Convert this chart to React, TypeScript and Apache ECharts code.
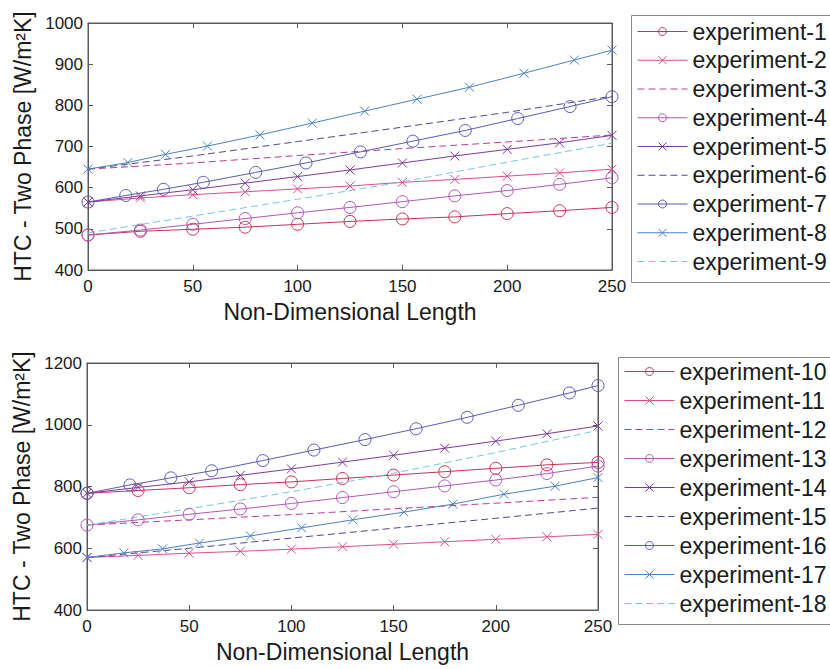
import React, { useEffect, useRef } from 'react';
import * as echarts from 'echarts';

const FONT = '"Liberation Sans", Arial, Helvetica, sans-serif';

// shared x positions
const X_STEP = [0, 25, 50, 75, 100, 125, 150, 175, 200, 225, 250];
const X_DASH = [0, 50, 100, 150, 200, 250];
const X_TICKS = [0, 50, 100, 150, 200, 250];

// ---- top panel (experiments 1-9)
const exp1 = [485, 494, 499, 504, 511, 518, 524, 529, 537, 544, 552];
const exp2 = [565, 575, 583, 590, 597, 604, 613, 620, 628, 636, 645];
const exp3 = [645, 660, 678, 695, 711, 728];
const exp4 = [485, 497, 511, 525, 539, 552, 566, 580, 593, 608, 624];
const exp5 = [565, 580, 595, 611, 627, 643, 660, 677, 693, 709, 727];
const exp6 = [645, 677, 712, 747, 783, 822];
const exp7x = [0, 18, 36, 55, 80, 104, 130, 155, 180, 205, 230, 250];
const exp7 = [565, 581, 596, 613, 637, 660, 687, 713, 739, 768, 797, 821];
const exp8x = [0, 19, 37, 57, 82, 107, 132, 157, 182, 208, 232, 250];
const exp8 = [645, 661, 681, 701, 728, 757, 786, 815, 844, 878, 910, 934];
const exp9 = [490, 531, 572, 614, 662, 708];

// ---- bottom panel (experiments 10-18)
const exp10 = [778, 787, 796, 806, 815, 826, 837, 848, 859, 870, 878];
const exp11 = [570, 577, 584, 590, 597, 605, 613, 621, 629, 637, 645];
const exp12 = [675, 692, 709, 728, 746, 765];
const exp13 = [675, 692, 710, 727, 745, 764, 783, 802, 821, 842, 866];
const exp14 = [778, 797, 815, 836, 857, 879, 901, 924, 947, 971, 996];
const exp15 = [570, 600, 633, 665, 697, 730];
const exp16x = [0, 21, 41, 61, 86, 111, 136, 161, 186, 211, 236, 250];
const exp16 = [778, 805, 828, 851, 884, 918, 952, 987, 1024, 1063, 1103, 1127];
const exp17x = [0, 18, 37, 55, 80, 105, 130, 155, 179, 204, 229, 250];
const exp17 = [570, 585, 598, 617, 640, 666, 692, 717, 743, 775, 801, 829];
const exp18 = [675, 728, 783, 843, 910, 982];

const NAMES_TOP = ['experiment-1', 'experiment-2', 'experiment-3', 'experiment-4', 'experiment-5', 'experiment-6', 'experiment-7', 'experiment-8', 'experiment-9'];
const NAMES_BOTTOM = ['experiment-10', 'experiment-11', 'experiment-12', 'experiment-13', 'experiment-14', 'experiment-15', 'experiment-16', 'experiment-17', 'experiment-18'];

const COLORS = ['#c8325a', '#d8508e', '#b83c96', '#b058b4', '#7a3c9c', '#4c4a8c', '#5a5cb0', '#4a82c4', '#74c8e2'];
const KINDS = ['o', 'x', '--', 'o', 'x', '--', 'o', 'x', '--'];

const X_SYMBOL = 'path://M0,0L10,10M10,0L0,10';

function mkSeries(name: string, color: string, kind: string, xs: number[], ys: number[], g: number) {
  const base: any = {
    name,
    type: 'line',
    xAxisIndex: g * 2,
    yAxisIndex: g * 2,
    data: xs.map((x, i) => [x, ys[i]]),
    lineStyle: { color, width: 1 },
    silent: true,
  };
  if (kind === '--') {
    base.symbol = 'none';
    base.showSymbol = false;
    base.lineStyle.type = [7, 4];
    base.itemStyle = { color: 'transparent', borderColor: 'transparent', borderWidth: 0 };
  } else if (kind === 'o') {
    base.symbol = 'circle';
    base.symbolSize = 12;
    base.itemStyle = { color: 'transparent', borderColor: color, borderWidth: 1 };
  } else {
    base.symbol = X_SYMBOL;
    base.symbolSize = 9;
    base.itemStyle = { color: 'transparent', borderColor: color, borderWidth: 1 };
  }
  return base;
}

const topData: [number[], number[]][] = [
  [X_STEP, exp1], [X_STEP, exp2], [X_DASH, exp3], [X_STEP, exp4], [X_STEP, exp5],
  [X_DASH, exp6], [exp7x, exp7], [exp8x, exp8], [X_DASH, exp9],
];
const bottomData: [number[], number[]][] = [
  [X_STEP, exp10], [X_STEP, exp11], [X_DASH, exp12], [X_STEP, exp13], [X_STEP, exp14],
  [X_DASH, exp15], [exp16x, exp16], [exp17x, exp17], [X_DASH, exp18],
];

const AXIS_COLOR = '#5a5a5a';
const TEXT_COLOR = '#1a1a1a';

function xAxes(g: number) {
  const common = {
    type: 'value',
    gridIndex: g,
    min: X_TICKS[0],
    max: X_TICKS[X_TICKS.length - 1],
    interval: 50,
    splitLine: { show: false },
    axisLine: { show: true, onZero: false, lineStyle: { color: AXIS_COLOR, width: 1 } },
    axisTick: { show: true, inside: true, length: 5, lineStyle: { color: AXIS_COLOR } },
  };
  return [
    {
      ...common,
      position: 'bottom',
      axisLabel: { show: true, fontSize: 17, color: TEXT_COLOR, fontFamily: FONT, margin: 8, formatter: (v: number) => String(v) },
      name: 'Non-Dimensional Length',
      nameLocation: 'middle',
      nameGap: 30,
      nameTextStyle: { fontSize: 23, color: TEXT_COLOR, fontFamily: FONT },
    },
    { ...common, position: 'top', axisLabel: { show: false } },
  ];
}

function yAxes(g: number, min: number, max: number, interval: number) {
  const common = {
    type: 'value',
    gridIndex: g,
    min,
    max,
    interval,
    splitLine: { show: false },
    axisLine: { show: true, onZero: false, lineStyle: { color: AXIS_COLOR, width: 1 } },
    axisTick: { show: true, inside: true, length: 5, lineStyle: { color: AXIS_COLOR } },
  };
  return [
    {
      ...common,
      position: 'left',
      axisLabel: { show: true, fontSize: 17, color: TEXT_COLOR, fontFamily: FONT, margin: 5, formatter: (v: number) => String(v) },
      name: 'HTC - Two Phase [W/m²K]',
      nameLocation: 'middle',
      nameGap: 52,
      nameTextStyle: { fontSize: 23, color: TEXT_COLOR, fontFamily: FONT },
    },
    { ...common, position: 'right', axisLabel: { show: false } },
  ];
}

function legend(names: string[], left: number, top: number, gap: number) {
  return {
    data: names,
    orient: 'vertical',
    left,
    top,
    itemWidth: 50,
    itemHeight: 10,
    itemGap: gap,
    selectedMode: false,
    padding: [7, 8, 7, 8],
    borderWidth: 0,
    lineStyle: { width: 1 },
    itemStyle: { borderWidth: 1 },
    textStyle: { fontSize: 23, lineHeight: 23, color: TEXT_COLOR, fontFamily: FONT },
  };
}

export default function App() {
  const ref = useRef<HTMLDivElement>(null);
  useEffect(() => {
    if (!ref.current) return;
    const chart = echarts.init(ref.current, null, { renderer: 'svg' });
    const series = [
      ...topData.map((d, i) => mkSeries(NAMES_TOP[i], COLORS[i], KINDS[i], d[0], d[1], 0)),
      ...bottomData.map((d, i) => mkSeries(NAMES_BOTTOM[i], COLORS[i], KINDS[i], d[0], d[1], 1)),
    ];
    chart.setOption({
      animation: false,
      backgroundColor: '#ffffff',
      grid: [
        { left: 88, top: 23, width: 524, height: 247, show: true, borderColor: AXIS_COLOR, borderWidth: 1, backgroundColor: '#ffffff' },
        { left: 87, top: 363, width: 511, height: 247, show: true, borderColor: AXIS_COLOR, borderWidth: 1, backgroundColor: '#ffffff' },
      ],
      graphic: [
        { type: 'rect', left: 629, top: 13, shape: { width: 260, height: 267 }, style: { fill: 'none', stroke: '#8a8a8a', lineWidth: 1 }, z: 0, silent: true },
        { type: 'rect', left: 616, top: 355, shape: { width: 260, height: 267 }, style: { fill: 'none', stroke: '#8a8a8a', lineWidth: 1 }, z: 0, silent: true },
      ],
      xAxis: [...xAxes(0), ...xAxes(1)],
      yAxis: [...yAxes(0, 400, 1000, 100), ...yAxes(1, 400, 1200, 200)],
      legend: [legend(NAMES_TOP, 629, 13, 5.75), legend(NAMES_BOTTOM, 616, 353, 6)],
      series,
    });
    return () => chart.dispose();
  }, []);
  return <div ref={ref} style={{ position: 'absolute', left: 0, top: 0, width: 830, height: 669 }} />;
}
